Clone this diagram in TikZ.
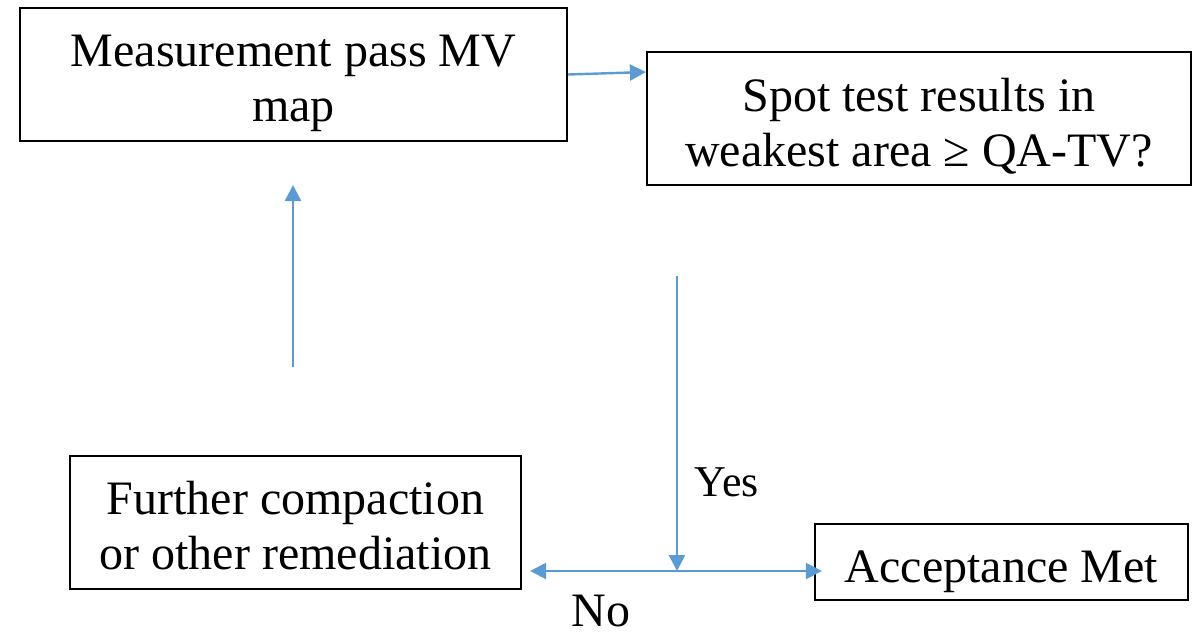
\documentclass[tikz,border=0pt]{standalone}
\usepackage{fontspec}
\setmainfont{Liberation Serif}
\usetikzlibrary{arrows.meta,positioning}
\definecolor{flowblue}{HTML}{5B9BD5}
\newcommand{\topgap}[1]{\rule{0pt}{#1}}
\tikzset{
  >={Triangle[length=8pt,width=8pt]},
  procbox/.style={draw=black,line width=1.1pt,align=center,
    font=\fontsize{24}{27.5}\selectfont,inner sep=0pt},
  flow/.style={->,draw=flowblue,fill=flowblue,line width=1.2pt},
  flowlbl/.style={font=\fontsize{22}{26}\selectfont,inner sep=0pt},
}
\begin{document}
\begin{tikzpicture}[x=0.5pt,y=-0.5pt]
  \useasboundingbox (0,0) rectangle (1200,634);
  % boxes
  \node[procbox,minimum width=273.5pt,minimum height=66.5pt] (pass) at (293.5,74.5)
    {\topgap{25pt}Measurement pass MV\\map};
  \node[procbox,minimum width=272pt,minimum height=66.5pt] (spot) at (919,118.5)
    {\topgap{24pt}Spot test results in\\weakest area ≥ QA-TV?};
  \node[procbox,minimum width=225.5pt,minimum height=66.5pt] (fix) at (295.5,522.5)
    {\topgap{20pt}Further compaction\\or other remediation};
  \node[procbox,minimum width=186.5pt,minimum height=38pt] (acc) at (1001.5,562)
    {\topgap{26pt}Acceptance Met};
  % free ends
  \coordinate (up0) at (293,367);
  \coordinate (up1) at (293,185);
  \coordinate (dec) at (677,276);
  \coordinate (split) at (677,571);
  % labels
  \node[flowlbl] (yes) at (727,482) {Yes};
  \node[flowlbl,font=\fontsize{24}{27.5}\selectfont] (no) at (601,611) {No};
  % connectors
  \draw[flow] (pass.east) -- ([yshift=23.25pt]spot.west);
  \draw[flow] (up0) -- (up1);
  \draw[flow] (dec) -- (split);
  \draw[flow,shorten >=4pt] (split) -- (fix.east |- split);
  \draw[flow,shorten >=-4pt] (split) -- (acc.west |- split);
\end{tikzpicture}
\end{document}
